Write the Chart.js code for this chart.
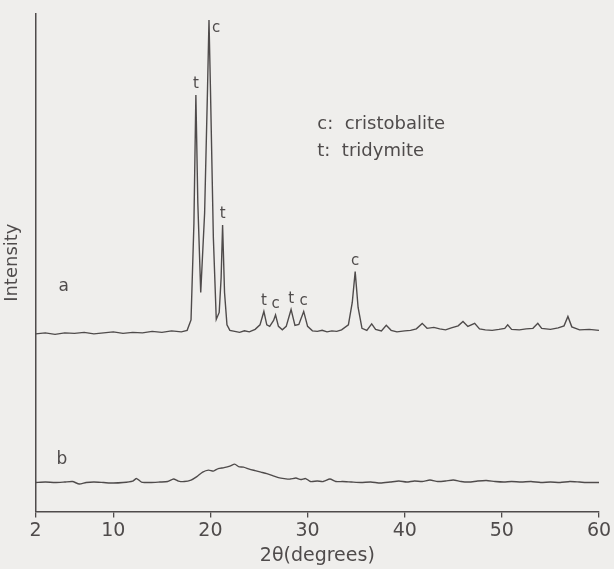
<!DOCTYPE html>
<html>
<head>
<meta charset="utf-8">
<script src="https://cdn.jsdelivr.net/npm/chart.js@4.4.1/dist/chart.umd.min.js"></script>
<style>
  html, body { margin: 0; padding: 0; background: #efeeec; }
  #wrap { width: 614px; height: 569px; }
</style>
</head>
<body>
<div id="wrap"><canvas id="xrd" width="614" height="569"></canvas></div>
<script>
// X-ray diffraction patterns, 2-theta in degrees vs intensity (arbitrary units)
const xTicks = [2, 10, 20, 30, 40, 50, 60];

// curve a: crystalline sample (cristobalite + tridymite)
const thetaA = [2, 3, 4, 5, 6, 7, 8, 9, 10, 11, 12, 13, 14, 15, 16, 17, 17.6, 18.0, 18.3, 18.5, 18.7,
  19.0, 19.4, 19.7, 19.85, 20.0, 20.3, 20.6, 20.9, 21.1, 21.25, 21.45, 21.7, 22.0, 22.5, 23, 23.5, 24,
  24.6, 25.1, 25.5, 25.8, 26.1, 26.5, 26.7, 27.0, 27.4, 27.8, 28.3, 28.7, 29.1, 29.6, 30.0, 30.5, 31,
  31.5, 32, 32.5, 33, 33.5, 34.2, 34.6, 34.9, 35.2, 35.6, 36.1, 36.6, 37.0, 37.6, 38.1, 38.6, 39.2, 40.0,
  40.6, 41.2, 41.8, 42.3, 43.0, 43.6, 44.2, 44.8, 45.5, 46.0, 46.5, 47.2, 47.7, 48.3, 49.0, 49.7, 50.3,
  50.6, 51.0, 51.8, 52.5, 53.2, 53.7, 54.1, 55.0, 55.8, 56.4, 56.8, 57.2, 58.0, 59.0, 60.0];
const intensityA = [35.7, 35.9, 35.6, 35.9, 35.8, 36.0, 35.7, 35.9, 36.1, 35.8, 36.0, 35.9, 36.2, 36.0,
  36.3, 36.1, 36.4, 38.5, 58, 83.7, 62, 44, 60, 85, 98.8, 85, 55, 38.6, 40, 47, 57.6, 44, 37.5, 36.4, 36.2,
  36.0, 36.3, 36.1, 36.6, 37.5, 40.2, 37.5, 37.2, 38.4, 39.5, 37.2, 36.5, 37.2, 40.6, 37.4, 37.6, 40.2,
  37.2, 36.3, 36.2, 36.4, 36.1, 36.3, 36.2, 36.5, 37.5, 42, 48.2, 41, 36.8, 36.4, 37.7, 36.6, 36.3, 37.4,
  36.4, 36.1, 36.3, 36.4, 36.7, 37.8, 36.8, 37.0, 36.7, 36.5, 36.9, 37.3, 38.2, 37.2, 37.8, 36.7, 36.5,
  36.4, 36.6, 36.8, 37.5, 36.6, 36.5, 36.7, 36.8, 37.8, 36.8, 36.6, 36.9, 37.3, 39.2, 37.1, 36.5, 36.6, 36.4];

// curve b: amorphous sample, one broad hump
const thetaB = [2, 3, 4, 5, 5.8, 6.5, 7.2, 8, 9, 10, 11, 12, 12.4, 12.9, 13.8, 14.8, 15.6, 16.2, 16.7,
  17.3, 18.0, 18.6, 19.2, 19.8, 20.3, 20.8, 21.4, 22.0, 22.5, 22.9, 23.4, 24.0, 24.6, 25.2, 25.8, 26.4,
  27.0, 27.6, 28.2, 28.8, 29.3, 29.8, 30.3, 31.0, 31.6, 32.3, 32.9, 33.6, 34.5, 35.5, 36.5, 37.5, 38.5,
  39.4, 40.2, 41.0, 41.8, 42.6, 43.4, 44.2, 45.0, 45.8, 46.6, 47.5, 48.4, 49.3, 50.2, 51.0, 52.0, 53.0,
  54.0, 55.0, 56.0, 57.0, 58.0, 59.0, 60.0];
const intensityB = [5.8, 5.9, 5.8, 5.9, 6.0, 5.5, 5.8, 5.9, 5.8, 5.7, 5.8, 6.1, 6.6, 5.9, 5.8, 5.9, 6.0,
  6.5, 6.1, 6.0, 6.3, 7.0, 7.9, 8.3, 8.1, 8.6, 8.8, 9.1, 9.5, 9.0, 8.9, 8.5, 8.2, 7.9, 7.6, 7.2, 6.8, 6.6,
  6.5, 6.7, 6.4, 6.6, 6.0, 6.1, 6.0, 6.5, 6.0, 6.0, 5.9, 5.8, 5.9, 5.7, 5.9, 6.1, 5.9, 6.1, 6.0, 6.3, 6.0,
  6.1, 6.3, 6.0, 5.9, 6.1, 6.2, 6.0, 5.9, 6.0, 5.9, 6.0, 5.8, 5.9, 5.8, 6.0, 5.9, 5.8, 5.8];

// phase tags on the peaks of curve a (t = tridymite, c = cristobalite)
const peakTheta = [18.5, 19.85, 21.25, 25.5, 26.7, 28.3, 29.6, 34.9];
const peakPhase = ['t', 'c', 't', 't', 'c', 't', 'c', 'c'];

const ink = '#4f4b4b';

function toPoints(xs, ys) {
  return xs.map((x, i) => ({ x: x, y: ys[i] }));
}

const annotate = {
  id: 'annotate',
  afterDatasetsDraw(chart) {
    const ctx = chart.ctx;
    const xs = chart.scales.x, ys = chart.scales.y;
    const area = chart.chartArea;
    ctx.save();
    ctx.fillStyle = ink;
    ctx.font = '15px "DejaVu Sans"';
    ctx.textBaseline = 'bottom';

    // peak tags, sitting just above each peak top
    peakTheta.forEach((t, i) => {
      const k = thetaA.indexOf(t);
      const px = xs.getPixelForValue(t);
      const py = ys.getPixelForValue(intensityA[k]);
      if (i === 1) {
        ctx.textAlign = 'left';
        ctx.fillText(peakPhase[i], px + 3, py + 16);
      } else {
        ctx.textAlign = 'center';
        ctx.fillText(peakPhase[i], px, py - 3);
      }
    });

    // curve names
    ctx.font = '17px "DejaVu Sans"';
    ctx.textAlign = 'center';
    ctx.fillText('a', xs.getPixelForValue(4.9), ys.getPixelForValue(intensityA[3]) - 38);
    ctx.fillText('b', xs.getPixelForValue(4.7), ys.getPixelForValue(intensityB[3]) - 14);

    // key
    ctx.font = '18px "DejaVu Sans"';
    ctx.textAlign = 'left';
    const kx = area.left + area.width * 0.5;
    const ky = area.top + area.height * 0.24;
    ctx.fillText('c:  cristobalite', kx, ky);
    ctx.fillText('t:  tridymite', kx, ky + 27);
    ctx.restore();
  }
};

const chart = new Chart(document.getElementById('xrd'), {
  type: 'line',
  data: {
    datasets: [{
      label: 'a',
      data: toPoints(thetaA, intensityA),
      borderColor: ink,
      borderWidth: 1.4,
      pointRadius: 0,
      tension: 0
    }, {
      label: 'b',
      data: toPoints(thetaB, intensityB),
      borderColor: ink,
      borderWidth: 1.4,
      pointRadius: 0,
      tension: 0.2
    }]
  },
  options: {
    responsive: false,
    animation: false,
    devicePixelRatio: 1,
    layout: { padding: { left: 2, right: 15, top: 14, bottom: 2 } },
    plugins: {
      legend: { display: false },
      tooltip: { enabled: false }
    },
    scales: {
      x: {
        type: 'linear',
        min: 2,
        max: 60,
        afterBuildTicks: scale => { scale.ticks = xTicks.map(v => ({ value: v })); },
        grid: { display: true, drawOnChartArea: false, drawTicks: true, tickLength: 6, color: ink, lineWidth: 1.3 },
        border: { display: true, color: ink, width: 1.5 },
        ticks: { color: ink, font: { family: 'DejaVu Sans', size: 19 }, padding: 2, maxRotation: 0 },
        title: { display: true, text: '2θ(degrees)', color: ink, font: { family: 'DejaVu Sans', size: 19 }, padding: { top: 0, bottom: 0 } }
      },
      y: {
        min: 0,
        max: 100,
        grid: { display: false },
        border: { display: true, color: ink, width: 1.5 },
        ticks: { display: false },
        title: { display: true, text: 'Intensity', color: ink, font: { family: 'DejaVu Sans', size: 18 }, padding: { top: 0, bottom: 4 } }
      }
    }
  },
  plugins: [annotate]
});
</script>
</body>
</html>
